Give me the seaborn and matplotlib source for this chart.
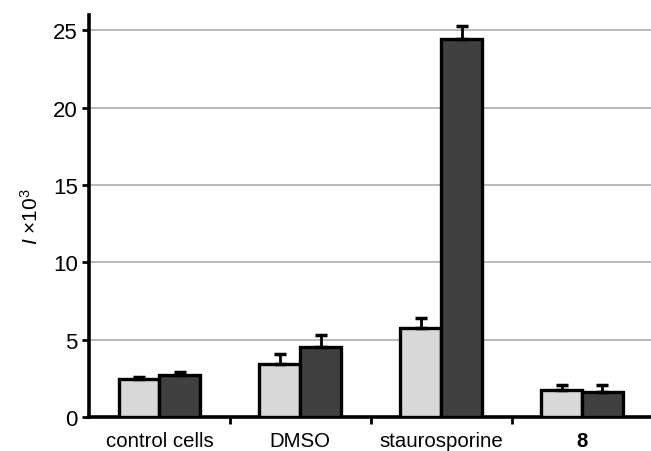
"Grouped bar chart with upward error bars"
import pandas as pd
import numpy as np
import matplotlib as mpl
mpl.use("Agg")
from matplotlib import pyplot as plt
import seaborn as sns

categories = ["control cells", "DMSO", "staurosporine", "8"]
series = ["first", "second"]
first_values = [2.46, 3.43, 5.74, 1.77]
first_errors = [0.14, 0.64, 0.64, 0.30]
second_values = [2.72, 4.55, 24.45, 1.64]
second_errors = [0.21, 0.77, 0.85, 0.43]
y_ticks = [0, 5, 10, 15, 20, 25]

df = pd.DataFrame({
    "category": categories * 2,
    "series": [series[0]] * 4 + [series[1]] * 4,
    "value": first_values + second_values,
    "err": first_errors + second_errors,
})

sns.set_theme(style="white")
plt.rcParams["font.family"] = ["Liberation Sans", "DejaVu Sans"]
plt.rcParams["mathtext.fontset"] = "custom"
plt.rcParams["mathtext.it"] = "Liberation Sans:italic"
plt.rcParams["mathtext.rm"] = "Liberation Sans"
plt.rcParams["text.color"] = "black"
plt.rcParams["axes.labelcolor"] = "black"
plt.rcParams["xtick.color"] = "black"
plt.rcParams["ytick.color"] = "black"

fig = plt.figure(figsize=(6.51, 4.52), dpi=100)
ax = fig.add_axes([89 / 651, 1 - 418 / 452, 1 - 89 / 651, (418 - 16) / 452])

sns.barplot(data=df, x="category", y="value", hue="series", order=categories,
            hue_order=series, palette=["#d8d8d8", "#404040"], width=0.58,
            edgecolor="black", linewidth=2.4, errorbar=None, legend=False,
            ax=ax, zorder=3)

# error bars on top of each bar, upward only
for patch_group, s in zip(ax.containers, series):
    sub = df[df["series"] == s].set_index("category").loc[categories]
    xs = [p.get_x() + p.get_width() / 2 for p in patch_group]
    ax.errorbar(xs, sub["value"], yerr=[np.zeros(len(xs)), sub["err"]],
                fmt="none", ecolor="black", elinewidth=2, capsize=4.5,
                capthick=2.5, zorder=4)

ax.set_ylim(0, 26)
ax.set_xlim(-0.5, 3.49)
ax.set_yticks(y_ticks)
ax.yaxis.grid(True, color="#b3b3b3", linewidth=1.3, zorder=0)
ax.set_axisbelow(True)

ax.set_xlabel("")
ax.set_ylabel(r"$\mathit{I}$ ×10$^3$", fontsize=15, labelpad=8)

ax.set_xticks(range(len(categories)))
ax.set_xticklabels(categories, fontsize=14.7)
ax.get_xticklabels()[3].set_fontweight("bold")
ax.tick_params(axis="x", which="major", length=0, pad=10)
ax.set_xticks([0.5, 1.5, 2.5], minor=True)
ax.tick_params(axis="x", which="minor", length=5, width=2, color="black",
               direction="out", bottom=True)
ax.tick_params(axis="y", length=5, width=2, color="black", labelsize=16,
               direction="out", left=True, pad=3)

for side in ["top", "right"]:
    ax.spines[side].set_visible(False)
for side in ["left", "bottom"]:
    ax.spines[side].set_linewidth(2.6)
    ax.spines[side].set_color("black")

plt.savefig("out.png", dpi=100)
